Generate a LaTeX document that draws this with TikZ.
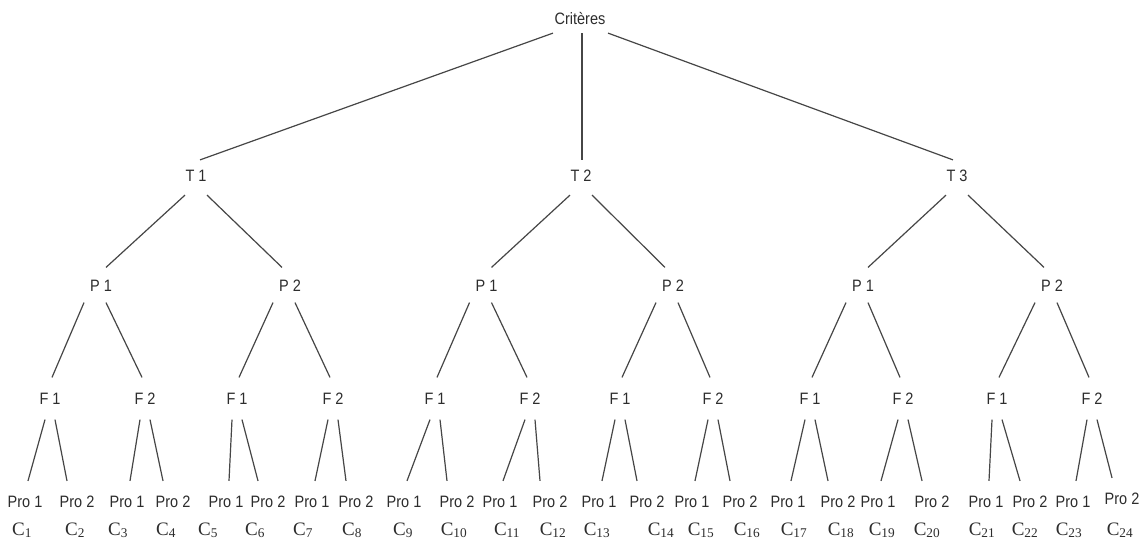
\documentclass[tikz,border=0pt]{standalone}
\usepackage{fontspec}
\setmainfont{Liberation Sans}
\newfontfamily\lsans[FakeStretch=0.88]{Liberation Sans}
\newfontfamily\lserif{Liberation Serif}
\usetikzlibrary{calc}
\definecolor{linecol}{RGB}{70,70,70}
\definecolor{txtcol}{RGB}{45,45,45}
\begin{document}
\begin{tikzpicture}[x=1pt,y=-1pt,
  lab/.style={font=\lsans\fontsize{16.5}{18}\selectfont, text=txtcol, inner sep=0pt, text height=11.8pt, text depth=0pt},
  cl/.style={font=\lserif\fontsize{19}{21}\selectfont, text=txtcol, inner sep=0pt, anchor=base},
  conn/.style={draw=linecol, line width=1.2pt}]
\useasboundingbox (0,0) rectangle (1147,543);
\fill[white] (0,0) rectangle (1147,543);
% nodes
\node[lab] (root) at (580,19) {Critères};
\node[lab] (t1) at (196,176) {T 1};
\node[lab] (t2) at (581,176) {T 2};
\node[lab] (t3) at (957,176) {T 3};
\foreach \x [count=\i] in {101,290,486.5,673,863,1052} {
  \pgfmathtruncatemacro\k{2-mod(\i,2)}
  \node[lab] (p\i) at (\x,285.5) {P \k};
}
\foreach \x [count=\i] in {50,145,237,333,435,530,620,713,810,903,997,1092} {
  \pgfmathtruncatemacro\k{2-mod(\i,2)}
  \node[lab] (f\i) at (\x,398.5) {F \k};
}
\foreach \x [count=\i] in {25,77,127,173,226,268,312,356,404,457,500,550,599,647,692,740,788,838,878,932,986,1030,1073,1122} {
  \pgfmathtruncatemacro\k{2-mod(\i,2)}
  \ifnum\i=24
    \node[lab] (pro\i) at (\x,499) {Pro \k};
  \else
    \node[lab] (pro\i) at (\x,502) {Pro \k};
  \fi
}
\foreach \x [count=\i] in {22,75,118,166,208,255,303,352,403,454,507,553,597,661,701,747,794,841,882,927,982,1025,1069,1120} {
  \node[cl] (c\i) at (\x,535) {C\textsubscript{\i}};
}
% connectors
\draw[conn] ($(root.south)+(-27,8)$) -- ($(t1.north)+(4,-10)$);
\draw[conn] ($(root.south)+(2,8)$) -- ($(t2.north)+(1,-10)$);
\draw[conn] ($(root.south)+(28,8)$) -- ($(t3.north)+(-4,-10)$);
\foreach \i in {1,2,3} {
  \pgfmathtruncatemacro\a{2*\i-1}
  \pgfmathtruncatemacro\b{2*\i}
  \draw[conn] ($(t\i.south)+(-11,13)$) -- ($(p\a.north)+(5,-12)$);
  \draw[conn] ($(t\i.south)+(11,13)$) -- ($(p\b.north)+(-8,-12)$);
}
\foreach \i in {1,...,6} {
  \pgfmathtruncatemacro\a{2*\i-1}
  \pgfmathtruncatemacro\b{2*\i}
  \draw[conn] ($(p\i.south)+(-17,11)$) -- ($(f\a.north)+(2,-15)$);
  \draw[conn] ($(p\i.south)+(5,11)$) -- ($(f\b.north)+(-3,-15)$);
}
\foreach \i in {1,...,12} {
  \pgfmathtruncatemacro\a{2*\i-1}
  \pgfmathtruncatemacro\b{2*\i}
  \draw[conn] ($(f\i.south)+(-5,15)$) -- ($(pro\a.north)+(3,-15)$);
  \draw[conn] ($(f\i.south)+(5,15)$) -- ($(pro\b.north)+(-10,-15)$);
}
\end{tikzpicture}
\end{document}
